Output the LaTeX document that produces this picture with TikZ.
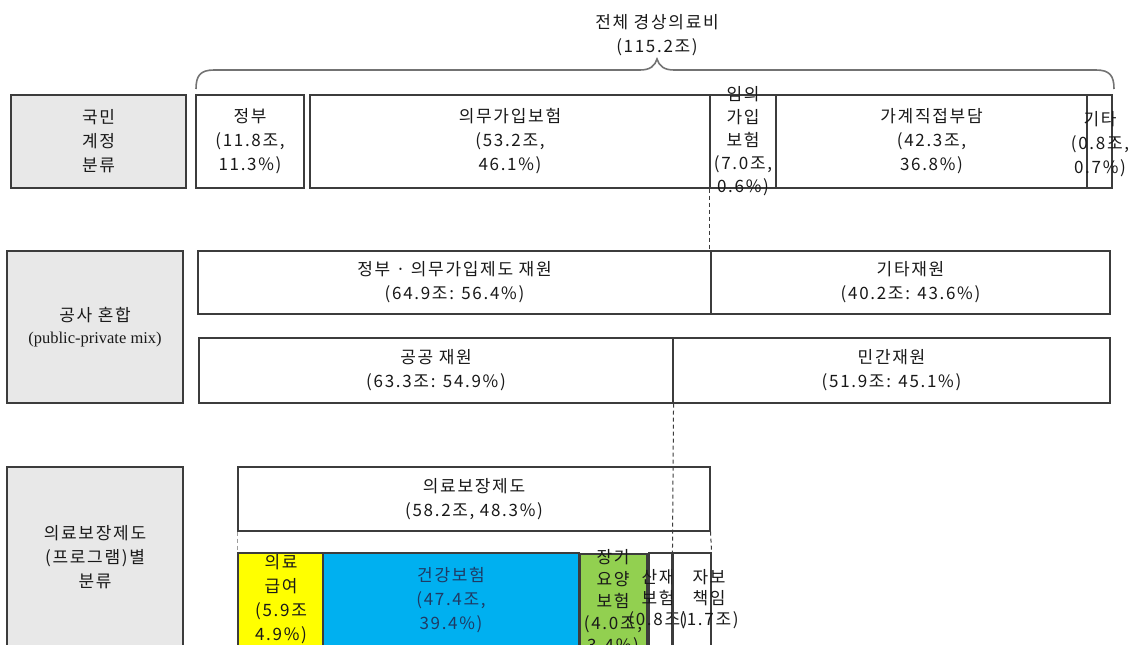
\documentclass[tikz,border=0pt]{standalone}
\usepackage{fontspec}
\setmainfont{Noto Sans CJK KR}[LetterSpace=10]
\newfontfamily\serifen{Liberation Serif}
\definecolor{lc}{HTML}{3C3C3C}
\definecolor{gfill}{HTML}{E8E8E8}
\definecolor{yel}{HTML}{FFFF00}
\definecolor{blu}{HTML}{00B0F0}
\definecolor{grn}{HTML}{92D050}
\definecolor{navy}{HTML}{1F3A64}
\tikzset{
  box/.style={draw=lc, line width=1.1pt, fill=white, inner sep=0pt, rectangle},
  graybox/.style={box, fill=gfill},
  txt/.style={align=center, inner sep=0pt, font=\fontsize{17}{24}\selectfont, text=black!90},
  dashline/.style={draw=lc, line width=1pt, dash pattern=on 4pt off 3pt},
  bracel/.style={draw=black!55, line width=1.6pt}
}
\begin{document}
\begin{tikzpicture}[x=1pt,y=-1pt]
\useasboundingbox (0,0) rectangle (1135,645);
\clip (0,0) rectangle (1135,645);
% title and brace
\node[txt] (title) at (657,35) {전체 경상의료비\\(115.2조)};
\coordinate (bl) at (196,89);
\coordinate (br) at (1114,89);
\coordinate (bt) at (657,59);
\draw[bracel] (bl) .. controls (196,76) and (200,70) .. (214,70) -- (640,70)
  .. controls (650,70) and (655,66) .. (bt)
  .. controls (659,66) and (664,70) .. (674,70) -- (1096,70)
  .. controls (1110,70) and (1114,76) .. (br);
% row 1
\node[graybox, minimum width=175, minimum height=93] (g1) at (98.5,141.5) {};
\node[txt] (g1t) at (g1) {국민\\계정\\분류};
\node[box, minimum width=108, minimum height=93] (gov) at (250,141.5) {};
\node[txt] (govt) at (gov) {정부\\(11.8조,\\11.3\%)};
\node[box, minimum width=400, minimum height=93] (mand) at (510,141.5) {};
\node[txt] (mandt) at (mand) {의무가입보험\\(53.2조,\\46.1\%)};
\node[box, minimum width=66, minimum height=93] (vol) at (743,141.5) {};
\node[txt, font=\fontsize{17}{23}\selectfont] (volt) at (743,141) {임의\\가입\\보험\\(7.0조,\\0.6\%)};
\node[box, minimum width=311, minimum height=93] (hh) at (931.5,141.5) {};
\node[txt] (hht) at (hh) {가계직접부담\\(42.3조,\\36.8\%)};
\node[box, minimum width=25, minimum height=93, fill=none] (oth) at (1099.5,141.5) {};
\node[txt] (otht) at (1100,144) {기타\\(0.8조,\\0.7\%)};
% row 2
\node[graybox, minimum width=176, minimum height=152] (g2) at (95,327) {};
\node[txt] (g2t) at (95,327) {공사 혼합\\[-2pt]{\serifen\fontsize{16.5}{18}\selectfont (public-private mix)}};
\node[box, minimum width=513, minimum height=63] (pub1) at (454.5,282.5) {};
\node[txt] (pub1t) at (pub1) {정부 · 의무가입제도 재원\\(64.9조: 56.4\%)};
\node[box, minimum width=399, minimum height=63] (oth2) at (910.5,282.5) {};
\node[txt] (oth2t) at (oth2) {기타재원\\(40.2조: 43.6\%)};
\node[box, minimum width=474, minimum height=65] (pub2) at (436,370.5) {};
\node[txt] (pub2t) at (pub2) {공공 재원\\(63.3조: 54.9\%)};
\node[box, minimum width=437, minimum height=65] (priv) at (891.5,370.5) {};
\node[txt] (privt) at (priv) {민간재원\\(51.9조: 45.1\%)};
% row 4
\node[graybox, minimum width=176, minimum height=240] (g3) at (95,587) {};
\node[txt] (g3t) at (95,557) {의료보장제도\\(프로그램)별\\분류};
\node[box, minimum width=472, minimum height=64] (msys) at (474,499) {};
\node[txt] (msyst) at (msys) {의료보장제도\\(58.2조, 48.3\%)};
\node[box, fill=yel, minimum width=85, minimum height=150] (yel) at (280.5,628) {};
\node[txt] (yelt) at (281,599) {의료\\급여\\(5.9조\\4.9\%)};
\node[box, fill=blu, minimum width=256, minimum height=150] (blu) at (451,628) {};
\node[txt, text=navy] (blut) at (451,600) {건강보험\\(47.4조,\\39.4\%)};
\node[box, fill=grn, minimum width=67, minimum height=150] (grn) at (613.5,629) {};
\node[txt, font=\fontsize{17}{22}\selectfont] (grnt) at (613,602) {장기\\요양\\보험\\(4.0조,\\3.4\%)};
\node[box, fill=none, minimum width=23, minimum height=150] (san) at (660.5,628) {};
\node[txt, font=\fontsize{17}{21}\selectfont] (sant) at (658,599) {산재\\보험\\(0.8조)};
\node[box, fill=none, minimum width=38, minimum height=150] (jabo) at (692,628) {};
\node[txt, font=\fontsize{17}{21}\selectfont] (jabot) at (709,599) {자보\\책임\\(1.7조)};
% dashed connectors
\draw[dashline] (vol.south west) -- (vol.south west |- pub1.north);
\draw[dashline] (pub2.south east) -- (jabo.north west);
\draw[dashline, draw=lc!50] (msys.south west) -- (yel.north west);
\draw[dashline] (msys.south east) -- (jabo.north east);
\end{tikzpicture}
\end{document}
